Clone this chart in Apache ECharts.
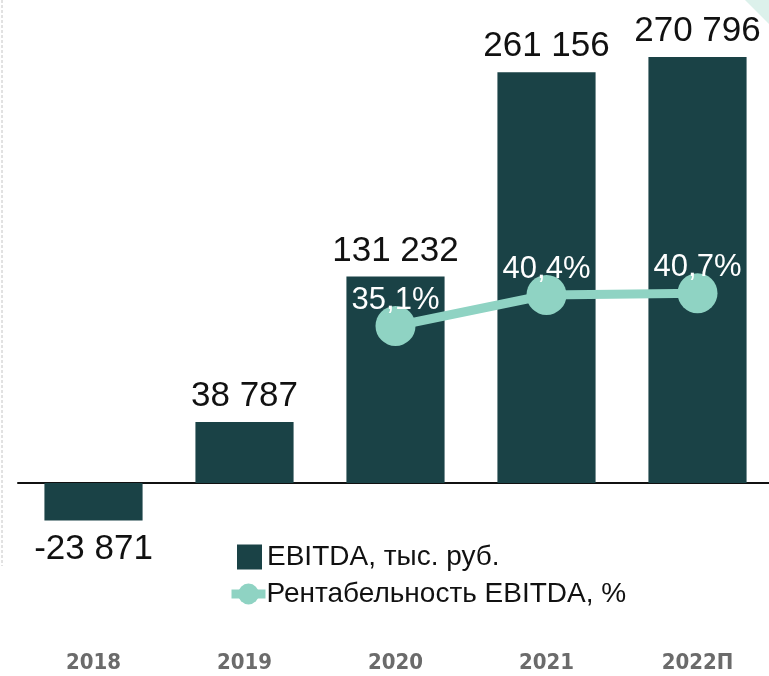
<!DOCTYPE html>
<html>
<head>
<meta charset="utf-8">
<script src="https://cdn.jsdelivr.net/npm/echarts@6/dist/echarts.min.js"></script>
<style>
  html, body { margin: 0; padding: 0; background: #fff; }
  #main { width: 769px; height: 676px; }
</style>
</head>
<body>
<div id="main"></div>
<script>
var years = ["2018", "2019", "2020", "2021", "2022П"];
var ebitda = [-23871, 38787, 131232, 261156, 270796];
var margin = [null, null, 35.1, 40.4, 40.7];
var barName = "EBITDA, тыс. руб.";
var lineName = "Рентабельность EBITDA, %";

var font = "'Liberation Sans', Arial, sans-serif";
var fmtNum = function (v) {
  var s = String(Math.abs(v)).replace(/\B(?=(\d{3})+(?!\d))/g, " ");
  return (v < 0 ? "-" : "") + s;
};

var myChart = echarts.init(document.getElementById("main"));
myChart.setOption({
  animation: false,
  textStyle: { fontFamily: font },
  grid: {
    left: 18, width: 755, top: 57, bottom: 36,
    containLabel: false, outerBoundsMode: "none"
  },
  legend: [
    {
      data: [barName],
      left: 237, top: 543, padding: 0,
      itemWidth: 25, itemHeight: 25, itemGap: 6,
      icon: "rect",
      textStyle: { fontSize: 28, color: "#111", fontFamily: font }
    },
    {
      data: [lineName],
      left: 227, top: 580, padding: 0,
      itemWidth: 34, itemHeight: 26, itemGap: 4,
      lineStyle: { width: 9 },
      textStyle: { fontSize: 28, color: "#111", fontFamily: font, padding: [0, 0, 0, -4] }
    }
  ],
  xAxis: [
    {
      type: "category",
      data: years,
      axisLine: { onZero: true, lineStyle: { color: "#111", width: 2 } },
      axisTick: { show: false },
      axisLabel: { show: false }
    },
    {
      type: "category",
      data: years,
      position: "bottom",
      axisLine: { show: false, onZero: false },
      axisTick: { show: false },
      axisLabel: {
        margin: 12,
        fontSize: 22,
        fontWeight: "bold",
        color: "#6b6b6b",
        fontFamily: "'DejaVu Sans Condensed', 'Liberation Sans Narrow', " + font
      }
    }
  ],
  yAxis: [
    { type: "value", min: -99809, max: 270796, show: false, splitLine: { show: false } },
    { type: "value", min: -18.58, max: 81.08, show: false, splitLine: { show: false } }
  ],
  graphic: [
    {
      type: "line",
      shape: { x1: 2, y1: 0, x2: 2, y2: 566 },
      style: { stroke: "#c4c4c4", lineWidth: 1, lineDash: [3, 2] }
    },
    {
      type: "polygon",
      shape: { points: [[745, 0], [769, 0], [769, 24]] },
      style: { fill: "#dcf1eb" }
    }
  ],
  series: [
    {
      name: barName,
      type: "bar",
      data: ebitda.map(function (v) {
        return {
          value: v,
          label: v < 0 ? { position: "bottom", distance: 11 } : { position: "top" }
        };
      }),
      barWidth: "65%",
      itemStyle: { color: "#1a4246" },
      label: {
        show: true,
        distance: 8,
        fontSize: 35,
        color: "#111",
        fontFamily: font,
        formatter: function (p) { return fmtNum(p.value); }
      }
    },
    {
      name: lineName,
      type: "line",
      yAxisIndex: 1,
      data: margin,
      symbol: "circle",
      symbolSize: 40,
      lineStyle: { width: 9, color: "#8fd3c3" },
      itemStyle: { color: "#8fd3c3" },
      label: {
        show: true,
        position: "inside",
        offset: [0, -26],
        fontSize: 31,
        color: "#fff",
        fontFamily: font,
        formatter: function (p) {
          return p.value == null ? "" : String(p.value).replace(".", ",") + "%";
        }
      }
    }
  ]
});
</script>
</body>
</html>
